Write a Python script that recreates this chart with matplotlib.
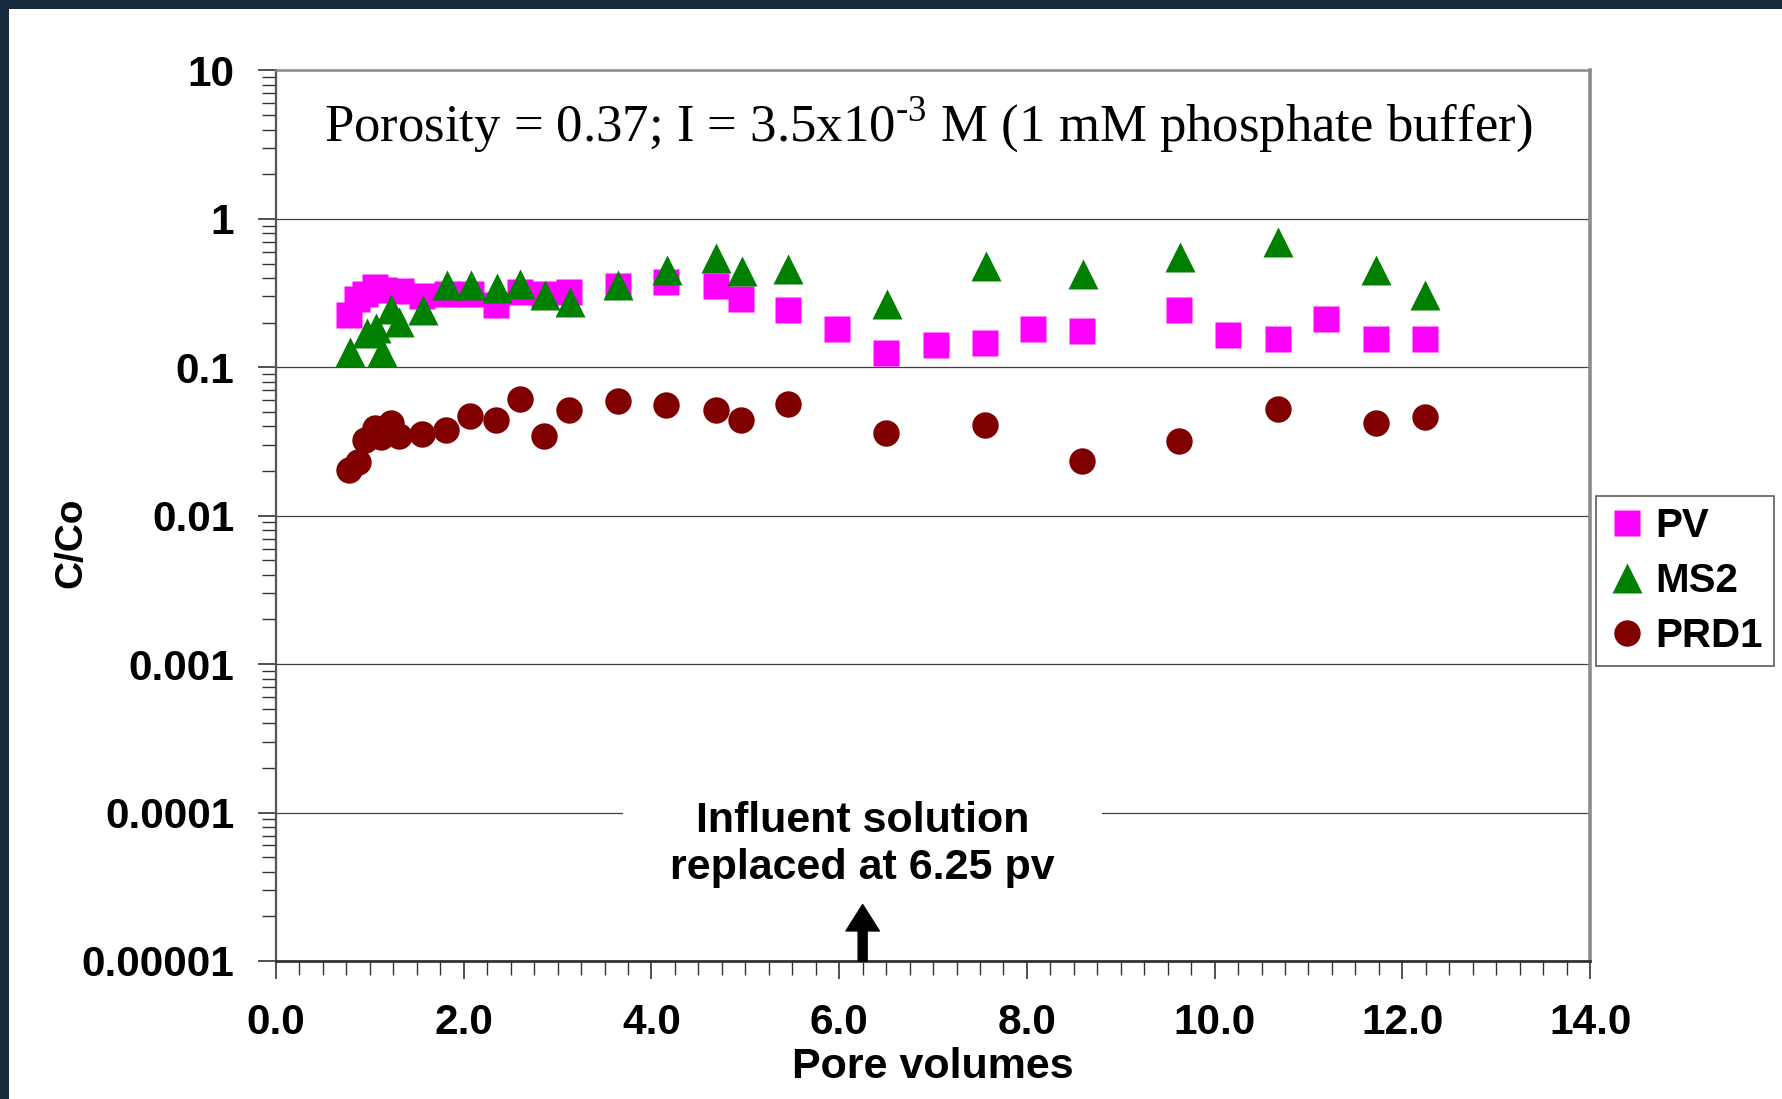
"""Breakthrough of PV, MS2 and PRD1 through the column (C/Co vs pore volumes)."""

import matplotlib

matplotlib.use("Agg")
import matplotlib.pyplot as plt
from matplotlib.patches import Rectangle
from matplotlib.ticker import LogLocator, MultipleLocator, NullFormatter

plt.rcParams["font.family"] = ["Liberation Sans", "DejaVu Sans"]
plt.rcParams["mathtext.fontset"] = "custom"
plt.rcParams["mathtext.rm"] = "Liberation Serif"

# --- data ---
pv_x = [0.78, 0.86, 0.95, 1.05, 1.15, 1.33, 1.56, 1.82, 2.08, 2.34, 2.60, 2.86,
        3.12, 3.64, 4.16, 4.69, 4.95, 5.45, 5.98, 6.50, 7.03, 7.55, 8.07, 8.59,
        9.62, 10.14, 10.67, 11.19, 11.72, 12.24]
pv_y = [0.226, 0.29, 0.314, 0.348, 0.33, 0.327, 0.30, 0.31, 0.31, 0.264, 0.32, 0.31,
        0.32, 0.353, 0.376, 0.355, 0.287, 0.245, 0.18, 0.124, 0.142, 0.145, 0.182, 0.176,
        0.245, 0.165, 0.156, 0.213, 0.156, 0.156]

ms2_x = [0.79, 0.97, 1.06, 1.13, 1.23, 1.31, 1.57, 1.82, 2.08, 2.35, 2.60, 2.87,
         3.13, 3.64, 4.17, 4.69, 4.96, 5.46, 6.51, 7.56, 8.60, 9.63, 10.68, 11.72, 12.24]
ms2_y = [0.127, 0.170, 0.185, 0.126, 0.247, 0.203, 0.242, 0.357, 0.357, 0.343, 0.365, 0.305,
         0.277, 0.357, 0.453, 0.548, 0.443, 0.46, 0.267, 0.48, 0.425, 0.55, 0.697, 0.453, 0.305]

prd1_x = [0.78, 0.87, 0.95, 1.05, 1.12, 1.22, 1.31, 1.56, 1.81, 2.07, 2.34, 2.60, 2.86,
          3.12, 3.64, 4.16, 4.69, 4.95, 5.45, 6.50, 7.55, 8.59, 9.62, 10.67, 11.72, 12.24]
prd1_y = [0.0202, 0.023, 0.0322, 0.0392, 0.0339, 0.0422, 0.0343, 0.0357, 0.038, 0.0468,
          0.044, 0.0615, 0.0343, 0.0513, 0.059, 0.0555, 0.0513, 0.044, 0.0567, 0.036,
          0.0406, 0.0235, 0.032, 0.0523, 0.0422, 0.0465]

y_ticks = [1e-5, 1e-4, 1e-3, 1e-2, 1e-1, 1, 10]
y_tick_labels = ["0.00001", "0.0001", "0.001", "0.01", "0.1", "1", "10"]
x_ticks = [0, 2, 4, 6, 8, 10, 12, 14]
x_tick_labels = ["0.0", "2.0", "4.0", "6.0", "8.0", "10.0", "12.0", "14.0"]

replaced_at = 6.25

fig = plt.figure(figsize=(17.83, 10.99), dpi=100)
fig.patch.set_facecolor("white")
# dark slide border on top and left
fig.patches.append(Rectangle((0, 1 - 9 / 1099), 1, 9 / 1099, transform=fig.transFigure,
                             facecolor="#172a3c", edgecolor="none", zorder=0))
fig.patches.append(Rectangle((0, 0), 9 / 1783, 1, transform=fig.transFigure,
                             facecolor="#172a3c", edgecolor="none", zorder=0))

ax = fig.add_axes([0.1548, 0.1256, 0.7370, 0.8103])

ax.plot(pv_x, pv_y, "s", color="#ff00ff", ms=19, mec="none", label="PV", zorder=3)
ax.plot(ms2_x, ms2_y, "^", color="#008000", ms=21, mec="none", label="MS2", zorder=3)
ax.plot(prd1_x, prd1_y, "o", color="#800000", ms=19, mec="none", label="PRD1", zorder=3)

ax.set_yscale("log")
ax.set_ylim(1e-5, 10)
ax.set_xlim(0, 14)

ax.set_yticks(y_ticks, y_tick_labels)
ax.yaxis.set_minor_locator(LogLocator(base=10, subs=range(2, 10), numticks=20))
ax.yaxis.set_minor_formatter(NullFormatter())
ax.set_xticks(x_ticks, x_tick_labels)
ax.xaxis.set_minor_locator(MultipleLocator(0.25))

ax.tick_params(axis="both", which="major", direction="out", length=13, width=1.2,
               color="#333333", labelsize=30.5)
ax.tick_params(axis="both", which="minor", direction="out", length=10, width=1.0,
               color="#333333")
ax.tick_params(axis="y", which="major", pad=17)
ax.tick_params(axis="x", which="major", pad=17)
for lbl in ax.get_xticklabels() + ax.get_yticklabels():
    lbl.set_fontweight("bold")

ax.grid(True, which="major", axis="y", color="#404040", linewidth=0.9)
ax.set_axisbelow(True)

ax.spines["top"].set_color("#8c8c8c")
ax.spines["top"].set_linewidth(1.8)
ax.spines["right"].set_color("#8c8c8c")
ax.spines["right"].set_linewidth(2.6)
ax.spines["left"].set_color("#555555")
ax.spines["left"].set_linewidth(1.6)
ax.spines["bottom"].set_color("#333333")
ax.spines["bottom"].set_linewidth(2.0)

ax.set_xlabel("Pore volumes", fontsize=31, fontweight="bold")
ax.xaxis.set_label_coords(0.5, -0.097)
ax.set_ylabel("C/Co", fontsize=28, fontweight="bold")
ax.yaxis.set_label_coords(-0.142, 0.47)

ax.text(0.496, 0.939,
        "Porosity = 0.37; I = 3.5x10$^{\\text{-3}}$ M (1 mM phosphate buffer)",
        transform=ax.transAxes, ha="center", va="center", fontsize=38,
        family=["Liberation Serif", "DejaVu Serif"])

ax.text(replaced_at, 6.1e-5, "Influent solution\nreplaced at 6.25 pv",
        ha="center", va="center", fontsize=31, fontweight="bold", linespacing=1.2,
        bbox=dict(boxstyle="square,pad=1.1", facecolor="white", edgecolor="none"),
        zorder=4)
ax.annotate("", xy=(replaced_at, 2.4e-5), xytext=(replaced_at, 1e-5),
            arrowprops=dict(width=6.5, headwidth=24, headlength=19,
                            facecolor="black", edgecolor="black", shrink=0),
            zorder=5)

leg = ax.legend(loc="upper left", bbox_to_anchor=(0.895, 0.549),
                bbox_transform=fig.transFigure, fontsize=29, frameon=True,
                fancybox=False, borderaxespad=0, handletextpad=0.2,
                handlelength=1.0, labelspacing=0.42, borderpad=0.28,
                markerscale=1.0)
leg.get_frame().set_edgecolor("#333333")
leg.get_frame().set_linewidth(1.2)
for txt in leg.get_texts():
    txt.set_fontweight("bold")

fig.savefig("out.png", dpi=100)
